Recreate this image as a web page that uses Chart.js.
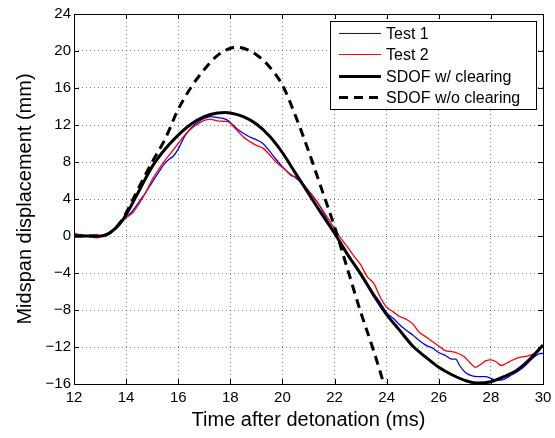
<!DOCTYPE html>
<html>
<head>
<meta charset="utf-8">
<script src="https://cdn.jsdelivr.net/npm/chart.js@4.4.1/dist/chart.umd.min.js"></script>
<style>
html, body { margin: 0; padding: 0; background: #fff; }
canvas { display: block; }
</style>
</head>
<body>
<canvas id="grafica" width="555" height="438"></canvas>
<script>
// tick labels
const xTicks = [12, 14, 16, 18, 20, 22, 24, 26, 28, 30];
const yTicks = [-16, -12, -8, -4, 0, 4, 8, 12, 16, 20, 24];

// Test 1 (blue)
const test1Time = [12, 12.5, 13, 13.3, 13.5, 13.75, 14, 14.25, 14.5, 14.75, 15, 15.25, 15.5, 15.65, 15.8, 16, 16.25, 16.5, 16.75, 17, 17.25, 17.5, 17.75, 17.9, 18.1, 18.25, 18.5, 18.75, 19, 19.25, 19.5, 19.75, 20, 20.25, 20.5, 20.75, 21, 21.25, 21.5, 21.75, 22, 22.25, 22.5, 22.75, 23, 23.25, 23.5, 23.75, 24, 24.25, 24.5, 24.75, 25, 25.25, 25.5, 25.75, 26, 26.25, 26.5, 26.65, 26.8, 27, 27.25, 27.5, 27.8, 28, 28.2, 28.5, 28.8, 29, 29.25, 29.5, 29.75, 29.9, 30];
const test1Disp = [0.05, 0.05, 0.05, 0.2, 0.7, 1.3, 2.0, 2.7, 3.7, 4.7, 5.8, 6.9, 7.9, 8.3, 8.6, 9.4, 10.8, 11.7, 12.3, 12.7, 12.9, 12.8, 12.7, 12.5, 12.0, 11.6, 11.1, 10.7, 10.4, 10.0, 9.2, 8.3, 7.5, 6.8, 6.3, 5.7, 4.9, 4.0, 2.9, 1.6, 0.4, -0.8, -1.9, -3.0, -4.0, -5.1, -6.2, -7.2, -8.3, -8.9, -9.6, -10.2, -10.7, -11.3, -11.8, -12.1, -12.6, -12.9, -13.3, -13.3, -14.0, -14.7, -15.1, -15.2, -15.2, -15.4, -15.6, -15.5, -15.0, -14.7, -14.2, -13.5, -12.9, -12.7, -12.7];

// Test 2 (red)
const test2Time = [12, 12.2, 12.5, 12.9, 13.1, 13.3, 13.5, 13.75, 14, 14.25, 14.5, 14.75, 15, 15.25, 15.5, 15.75, 16, 16.25, 16.5, 16.75, 17, 17.25, 17.5, 17.75, 17.95, 18.1, 18.3, 18.5, 18.75, 19, 19.25, 19.5, 19.75, 20, 20.2, 20.35, 20.55, 20.75, 21, 21.25, 21.5, 21.75, 22, 22.2, 22.5, 22.75, 23, 23.25, 23.5, 23.75, 24, 24.25, 24.5, 24.75, 25, 25.25, 25.5, 25.75, 26, 26.25, 26.5, 26.75, 27, 27.2, 27.4, 27.6, 27.8, 28, 28.2, 28.4, 28.7, 29, 29.5, 29.8, 30];
const test2Disp = [0.3, 0.15, 0.05, -0.2, 0.0, 0.2, 0.7, 1.3, 2.0, 2.5, 3.5, 4.7, 6.1, 7.2, 8.2, 9.1, 10.0, 10.9, 11.6, 12.1, 12.5, 12.6, 12.45, 12.4, 12.3, 11.9, 11.3, 10.7, 10.2, 9.8, 9.5, 8.8, 8.0, 7.4, 6.9, 6.5, 6.4, 5.8, 4.9, 4.0, 3.0, 1.9, 0.8, -0.1, -1.2, -2.2, -3.1, -4.4, -5.1, -6.6, -7.7, -8.2, -8.7, -9.0, -9.5, -10.4, -10.9, -11.4, -11.9, -12.4, -12.5, -12.7, -13.1, -13.7, -14.2, -13.9, -13.5, -13.4, -13.6, -14.0, -13.6, -13.2, -12.9, -12.5, -11.9];

// SDOF w/ clearing
const sdofTime = [12, 13, 13.25, 13.5, 13.75, 14, 14.5, 15, 15.5, 16, 16.5, 17, 17.5, 17.8, 18, 18.5, 19, 19.5, 20, 20.5, 21, 21.5, 22, 22.5, 23, 23.5, 24, 24.5, 25, 25.5, 26, 26.5, 27, 27.45, 28, 28.5, 29, 29.5, 30];
const sdofDisp = [0, 0, 0.15, 0.6, 1.3, 2.3, 4.9, 7.5, 9.4, 10.9, 12.1, 12.9, 13.3, 13.35, 13.3, 12.9, 12.1, 10.8, 9.0, 6.8, 4.6, 2.4, 0.3, -2.0, -4.1, -6.4, -8.5, -10.2, -11.9, -13.1, -14.2, -15.0, -15.6, -15.9, -15.75, -15.2, -14.5, -13.3, -11.8];

// SDOF w/o clearing
const sdofNoTime = [12, 13, 13.25, 13.5, 13.75, 14, 14.5, 15, 15.5, 16, 16.5, 17, 17.5, 18, 18.3, 18.5, 19, 19.5, 20, 20.5, 21, 21.5, 22, 22.5, 23, 23.5, 24];
const sdofNoDisp = [0, 0, 0.15, 0.6, 1.4, 2.5, 5.3, 8.0, 10.5, 13.7, 16.1, 18.0, 19.5, 20.3, 20.4, 20.3, 19.6, 18.3, 16.3, 13.0, 9.2, 5.1, 1.0, -3.6, -8.2, -12.4, -17.0];

const fuente = '"Liberation Sans", Arial, Helvetica, sans-serif';

function pts(t, d) {
    return t.map((v, i) => ({x: v, y: d[i]}));
}

// box, inward ticks and legend like the matlab figure
const marco = {
    id: 'marco',
    afterDraw(chart) {
        const ctx = chart.ctx;
        const a = chart.chartArea;
        const sx = chart.scales.x, sy = chart.scales.y;
        ctx.save();
        ctx.strokeStyle = '#000';
        ctx.lineWidth = 1;
        ctx.beginPath();
        xTicks.forEach(v => {
            const px = Math.round(sx.getPixelForValue(v)) + 0.5;
            ctx.moveTo(px, a.bottom); ctx.lineTo(px, a.bottom - 5);
            ctx.moveTo(px, a.top); ctx.lineTo(px, a.top + 5);
        });
        yTicks.forEach(v => {
            const py = Math.round(sy.getPixelForValue(v)) + 0.5;
            ctx.moveTo(a.left, py); ctx.lineTo(a.left + 5, py);
            ctx.moveTo(a.right, py); ctx.lineTo(a.right - 5, py);
        });
        ctx.stroke();
        ctx.strokeRect(Math.round(a.left) + 0.5, Math.round(a.top) + 0.5, Math.round(a.right - a.left), Math.round(a.bottom - a.top));

        // legend
        const w = 206, h = 88;
        const x0 = Math.round(a.right) - 7 - w, y0 = Math.round(a.top) + 7;
        ctx.fillStyle = '#fff';
        ctx.fillRect(x0, y0, w, h);
        ctx.strokeRect(x0 + 0.5, y0 + 0.5, w, h);
        ctx.font = '16px ' + fuente;
        ctx.textBaseline = 'middle';
        chart.data.datasets.forEach((ds, i) => {
            const cy = Math.round(y0 + 12 + i * 21.4) + 0.5;
            ctx.beginPath();
            ctx.strokeStyle = ds.borderColor;
            ctx.lineWidth = ds.borderWidth < 2 ? 1 : ds.borderWidth;
            ctx.setLineDash(ds.borderDash || []);
            ctx.moveTo(x0 + 9, cy);
            ctx.lineTo(x0 + 51, cy);
            ctx.stroke();
            ctx.setLineDash([]);
            ctx.fillStyle = '#000';
            ctx.fillText(ds.label, x0 + 56, cy + 1);
        });
        ctx.restore();
    }
};

const miGrafica = document.getElementById('grafica').getContext('2d');
const G1 = new Chart(miGrafica, {
    type: 'line',
    data: {
        datasets: [
            {label: 'Test 1', data: pts(test1Time, test1Disp), borderColor: '#0000ff', borderWidth: 1.3, order: 4},
            {label: 'Test 2', data: pts(test2Time, test2Disp), borderColor: '#ff0000', borderWidth: 1.3, order: 3},
            {label: 'SDOF w/ clearing', data: pts(sdofTime, sdofDisp), borderColor: '#000', borderWidth: 3, order: 2},
            {label: 'SDOF w/o clearing', data: pts(sdofNoTime, sdofNoDisp), borderColor: '#000', borderWidth: 3, borderDash: [9, 6], order: 1}
        ]
    },
    options: {
        responsive: false,
        animation: false,
        parsing: false,
        elements: {
            point: {radius: 0},
            line: {cubicInterpolationMode: 'monotone', fill: false}
        },
        layout: {padding: {top: 14, right: 12, bottom: 0, left: 0}},
        plugins: {
            legend: {display: false},
            tooltip: {enabled: false}
        },
        scales: {
            x: {
                type: 'linear',
                min: 12,
                max: 30,
                afterBuildTicks: s => { s.ticks = xTicks.map(v => ({value: v})); },
                afterFit: s => { s.height = 54; s.paddingLeft = 0; s.paddingRight = 0; },
                ticks: {
                    color: '#000',
                    padding: 5,
                    maxRotation: 0,
                    font: {family: fuente, size: 15},
                    callback: v => String(v).replace('-', '\u2212')
                },
                grid: {color: 'rgba(0,0,0,0.5)', drawTicks: false, lineWidth: 1},
                border: {display: false, dash: [1, 3]},
                title: {
                    display: true,
                    text: 'Time after detonation (ms)',
                    color: '#000',
                    font: {family: fuente, size: 20},
                    padding: {top: 0, bottom: 6}
                }
            },
            y: {
                type: 'linear',
                min: -16,
                max: 24,
                afterBuildTicks: s => { s.ticks = yTicks.map(v => ({value: v})); },
                afterFit: s => { s.width = 74; s.paddingTop = 0; s.paddingBottom = 0; },
                ticks: {
                    color: '#000',
                    padding: 3,
                    font: {family: fuente, size: 15},
                    callback: v => String(v).replace('-', '\u2212')
                },
                grid: {color: 'rgba(0,0,0,0.5)', drawTicks: false, lineWidth: 1},
                border: {display: false, dash: [1, 3]},
                title: {
                    display: true,
                    text: 'Midspan displacement (mm)',
                    color: '#000',
                    font: {family: fuente, size: 20},
                    padding: {top: 13, bottom: 0}
                }
            }
        }
    },
    plugins: [marco]
});
</script>
</body>
</html>
